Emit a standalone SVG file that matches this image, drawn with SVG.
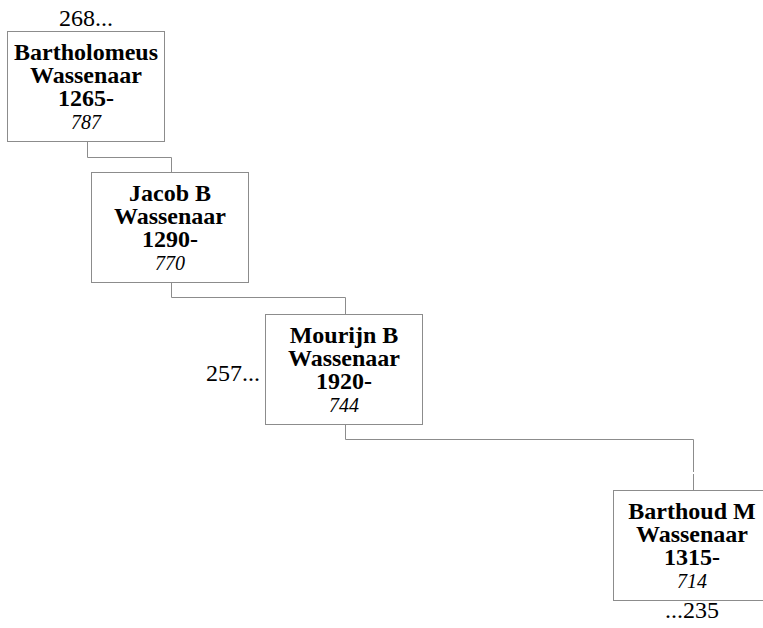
<svg xmlns="http://www.w3.org/2000/svg" width="763" height="628" viewBox="0 0 763 628">
<style>
.box{fill:#fff;stroke:#8c8c8c;stroke-width:1}
.conn{fill:none;stroke:#8c8c8c;stroke-width:1}
.n{font-family:"Liberation Serif","Times New Roman",serif;font-weight:bold;font-size:24px;text-anchor:middle;fill:#000}
.id{font-family:"Liberation Serif","Times New Roman",serif;font-style:italic;font-size:20px;text-anchor:middle;fill:#000}
.lbl{font-family:"Liberation Serif","Times New Roman",serif;font-size:24px;fill:#000}
</style>
<rect width="763" height="628" fill="#fff"/>
<g id="connectors">
<path class="conn" d="M87.5,141 V157.5 H171.5 V173"/>
<path class="conn" d="M171.5,283 V297.5 H345.5 V314"/>
<path class="conn" d="M345.5,424 V439.5 H693.5 V472 M693.5,474 V490"/>
</g>
<g id="n1">
<rect class="box" x="7.5" y="31.5" width="157" height="110"/>
<text class="n" x="86" y="60">Bartholomeus</text>
<text class="n" x="86" y="82.5">Wassenaar</text>
<text class="n" x="86" y="106">1265-</text>
<text class="id" x="86" y="129">787</text>
</g>
<g id="n2">
<rect class="box" x="91.5" y="172.5" width="157" height="110"/>
<text class="n" x="170" y="201">Jacob B</text>
<text class="n" x="170" y="223.5">Wassenaar</text>
<text class="n" x="170" y="247">1290-</text>
<text class="id" x="170" y="270">770</text>
</g>
<g id="n3">
<rect class="box" x="265.5" y="314.5" width="157" height="110"/>
<text class="n" x="344" y="343">Mourijn B</text>
<text class="n" x="344" y="365.5">Wassenaar</text>
<text class="n" x="344" y="389">1920-</text>
<text class="id" x="344" y="412">744</text>
</g>
<g id="n4">
<rect class="box" x="613.5" y="490.5" width="157" height="110"/>
<text class="n" x="692" y="519">Barthoud M</text>
<text class="n" x="692" y="541.5">Wassenaar</text>
<text class="n" x="692" y="565">1315-</text>
<text class="id" x="692" y="588">714</text>
</g>
<g id="labels">
<text class="lbl" x="86" y="26" text-anchor="middle">268...</text>
<text class="lbl" x="260" y="381" text-anchor="end">257...</text>
<text class="lbl" x="692" y="618" text-anchor="middle">...235</text>
</g>
</svg>
